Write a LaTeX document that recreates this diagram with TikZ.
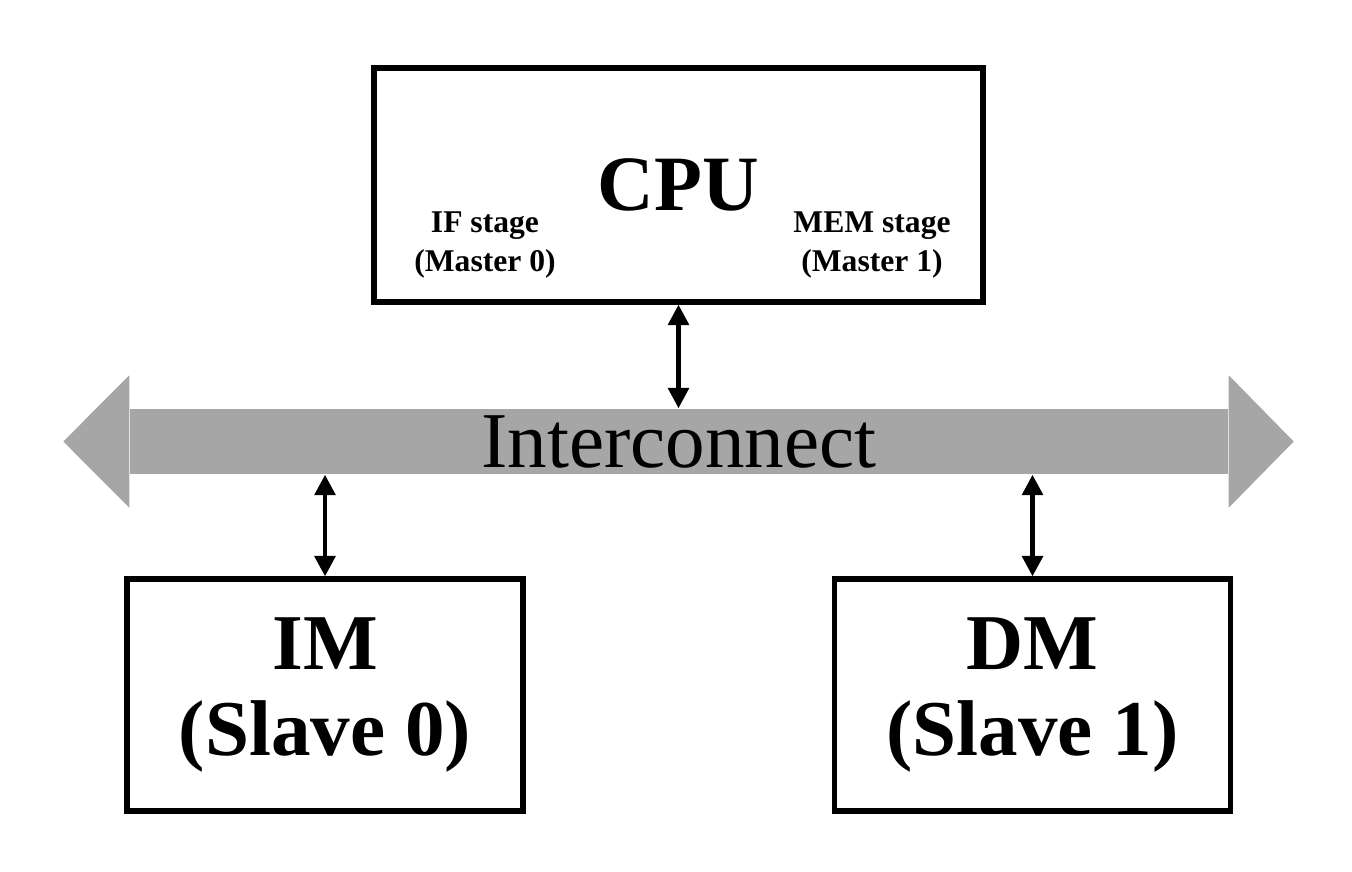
\documentclass[tikz,border=0pt]{standalone}
\usepackage{fontspec}
\setmainfont{Liberation Serif}
\usepackage{tikz}
\usetikzlibrary{positioning, arrows.meta, calc}
\definecolor{busgray}{RGB}{166,166,166}

\begin{document}
\begin{tikzpicture}
			\useasboundingbox (0,0) rectangle (13.52,-8.71);
			\tikzset{
				block/.style={draw, rectangle, line width=1.5pt, text centered, inner sep=0pt},
				link/.style={{Triangle[length=5.8pt,width=5.8pt]}-{Triangle[length=5.8pt,width=5.8pt]}, line width=1.3pt}
			}
			
			%CPU
			\node (cpu) at (6.785,-1.85) [block, minimum width=6.09cm, minimum height=2.34cm, 
			font=\bfseries\fontsize{22.3}{24}\selectfont]{CPU};
			
			%IF stage
			\node (ifStage) at (4.85,-2.45) [text centered, align=center, inner sep=0pt, 
			font=\bfseries\fontsize{9}{11.1}\selectfont]{IF stage\\ (Master 0)};
			
			%MEM stage
			\node (memStage) at (8.72,-2.45) [text centered, align=center, inner sep=0pt, 
			font=\bfseries\fontsize{9}{11.1}\selectfont]{MEM stage\\ (Master 1)};
			
			%Interconnect
			\node (bus) at (6.79,-4.415) [rectangle, fill=busgray, inner sep=0pt, minimum width=10.98cm, 
			minimum height=0.65cm, font=\fontsize{22.5}{24}\selectfont]{Interconnect};
			\fill[busgray] ([yshift=0.33cm]bus.north west) -- ([xshift=-0.66cm]bus.west) -- 
			([yshift=-0.33cm]bus.south west) -- cycle;
			\fill[busgray] ([yshift=0.33cm]bus.north east) -- ([xshift=0.65cm]bus.east) -- 
			([yshift=-0.33cm]bus.south east) -- cycle;
			
			%Instruction memory
			\node (im) at (3.25,-6.95) [block, minimum width=3.96cm, minimum height=2.32cm, align=center, 
			font=\bfseries\fontsize{22.5}{24.75}\selectfont]{IM\\ (Slave 0)};
			
			%Data memory
			\node (dm) at (10.325,-6.95) [block, minimum width=3.96cm, minimum height=2.32cm, align=center, 
			font=\bfseries\fontsize{22.5}{24.75}\selectfont]{DM\\ (Slave 1)};
			
			%Links
			\draw[link] (cpu.south) -- (cpu.south |- bus.north);
			\draw[link] (bus.south -| im.north) -- (im.north);
			\draw[link] (bus.south -| dm.north) -- (dm.north);
			
\end{tikzpicture}
\end{document}
